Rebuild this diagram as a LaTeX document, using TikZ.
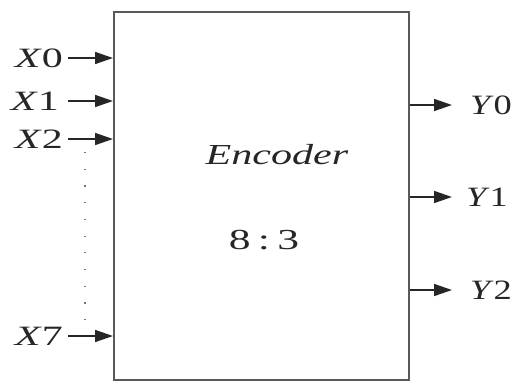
\documentclass[tikz,border=0pt]{standalone}
\usepackage{graphicx}
\usepackage{fontspec}
\setmainfont{Liberation Serif}
\usetikzlibrary{arrows.meta}
\newcommand\wlab[1]{\scalebox{1.5}[1]{#1}}
\newcommand\ylab[1]{\scalebox{1.3}[1]{#1}}
\tikzset{
  arr/.style={line width=1.5pt, draw=black!85, -{Triangle[length=18pt,width=12pt]}},
  lbl/.style={inner sep=0pt, font=\fontsize{28}{28}\selectfont, text=black!85},
  big/.style={inner sep=0pt, font=\fontsize{29}{29}\selectfont, text=black!85},
  boxst/.style={draw=black!65, line width=2pt, minimum width=295pt, minimum height=368pt, inner sep=0pt}
}
\begin{document}
\begin{tikzpicture}[x=1pt,y=-1pt]
\useasboundingbox (0,0) rectangle (514,381);
\node[boxst] (box) at (261.5,196) {};
\node[big] (enc) at (277,155) {\scalebox{1.45}[1]{\textit{Encoder}}};
\node[big] (ratio) at (264,240) {\wlab{8\,:\,3}};
% inputs
\node[lbl, anchor=east] (x0) at (63,58) {\wlab{\textit{X}0}};
\node[lbl, anchor=east] (x1) at (59,101) {\wlab{\textit{X}1}};
\node[lbl, anchor=east] (x2) at (63,139) {\wlab{\textit{X}2}};
\node[lbl, anchor=east] (x7) at (63,336) {\wlab{\textit{X}7}};
\coordinate (s0) at (68,58);
\coordinate (s1) at (68,101);
\coordinate (s2) at (68,139);
\coordinate (s7) at (68,336);
\draw[arr] (s0) -- (s0 -| box.west);
\draw[arr] (s1) -- (s1 -| box.west);
\draw[arr] (s2) -- (s2 -| box.west);
\draw[arr] (s7) -- (s7 -| box.west);
\coordinate (d1) at (85,152);
\coordinate (d2) at (85,322);
\draw[draw=black!55, line width=1.2pt, dash pattern=on 1.2pt off 15.5pt] (d1) -- (d2);
% outputs
\coordinate (e0) at (452,105);
\coordinate (e1) at (452,197);
\coordinate (e2) at (452,290);
\draw[arr] (e0 -| box.east) -- (e0);
\draw[arr] (e1 -| box.east) -- (e1);
\draw[arr] (e2 -| box.east) -- (e2);
\node[lbl, anchor=east] (y0) at (512,105) {\ylab{\textit{Y}0}};
\node[lbl, anchor=east] (y1) at (508,197) {\ylab{\textit{Y}1}};
\node[lbl, anchor=east] (y2) at (512,290) {\ylab{\textit{Y}2}};
\end{tikzpicture}
\end{document}
